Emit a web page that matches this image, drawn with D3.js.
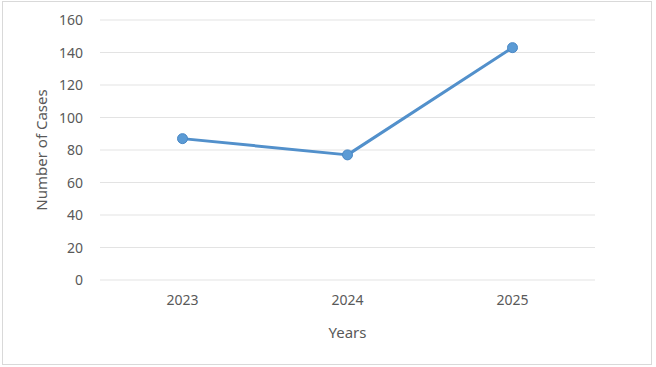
<!DOCTYPE html>
<html>
<head>
<meta charset="utf-8">
<script src="https://cdn.jsdelivr.net/npm/d3@7"></script>
<style>
  body { margin: 0; background: #fff; }
  text { font-family: "Noto Sans", "Open Sans", sans-serif; fill: #595959; }
</style>
</head>
<body>
<svg id="chartSvg" width="656" height="367"></svg>
<script>
const years = ['2023', '2024', '2025']
const cases = [87, 77, 143]
const yTicks = [0, 20, 40, 60, 80, 100, 120, 140, 160]

window.onload = function(){
    const svg = d3.select('#chartSvg')
    const plot = {left: 100, right: 595, top: 20, bottom: 280}

    // chart frame
    svg.append('rect')
        .attr('x', 2.5).attr('y', 1.5)
        .attr('width', 649).attr('height', 363)
        .attr('fill', '#fff')
        .attr('stroke', '#d9d9d9')

    const x = d3.scaleBand().domain(years).range([plot.left, plot.right])
    const y = d3.scaleLinear().domain([0, 160]).range([plot.bottom, plot.top])

    // gridlines
    svg.append('g')
        .selectAll('line')
        .data(yTicks)
        .join('line')
        .attr('x1', plot.left).attr('x2', plot.right)
        .attr('y1', d => y(d)).attr('y2', d => y(d))
        .attr('stroke', '#e3e3e3')
        .attr('stroke-width', 1.2)

    const yAxis = svg.append('g')
        .attr('transform', 'translate(' + (plot.left - 14) + ',0)')
        .call(d3.axisLeft(y).tickValues(yTicks).tickSize(0))
    yAxis.select('.domain').remove()
    yAxis.selectAll('text').style('font-size', '14px').attr('dy', '0.35em')

    const xAxis = svg.append('g')
        .attr('transform', 'translate(0,' + (plot.bottom + 12) + ')')
        .call(d3.axisBottom(x).tickSize(0))
    xAxis.select('.domain').remove()
    xAxis.selectAll('text').style('font-size', '14px')

    svg.append('text')
        .attr('x', (plot.left + plot.right) / 2)
        .attr('y', 338)
        .attr('text-anchor', 'middle')
        .style('font-size', '15px')
        .text('Years')

    svg.append('text')
        .attr('transform', 'translate(47,' + ((plot.top + plot.bottom) / 2) + ') rotate(-90)')
        .attr('text-anchor', 'middle')
        .style('font-size', '15px')
        .text('Number of Cases')

    const pts = years.map((yr, i) => ({year: yr, value: cases[i]}))
    const cx = d => x(d.year) + x.bandwidth() / 2

    svg.append('path')
        .datum(pts)
        .attr('fill', 'none')
        .attr('stroke', '#5290cb')
        .attr('stroke-width', 3)
        .attr('stroke-linejoin', 'round')
        .attr('d', d3.line().x(cx).y(d => y(d.value)))

    svg.append('g')
        .selectAll('circle')
        .data(pts)
        .join('circle')
        .attr('cx', cx)
        .attr('cy', d => y(d.value))
        .attr('r', 5)
        .attr('fill', '#5b9bd5')
        .attr('stroke', '#4a88c5')
        .attr('stroke-width', 1)
}
</script>
</body>
</html>
